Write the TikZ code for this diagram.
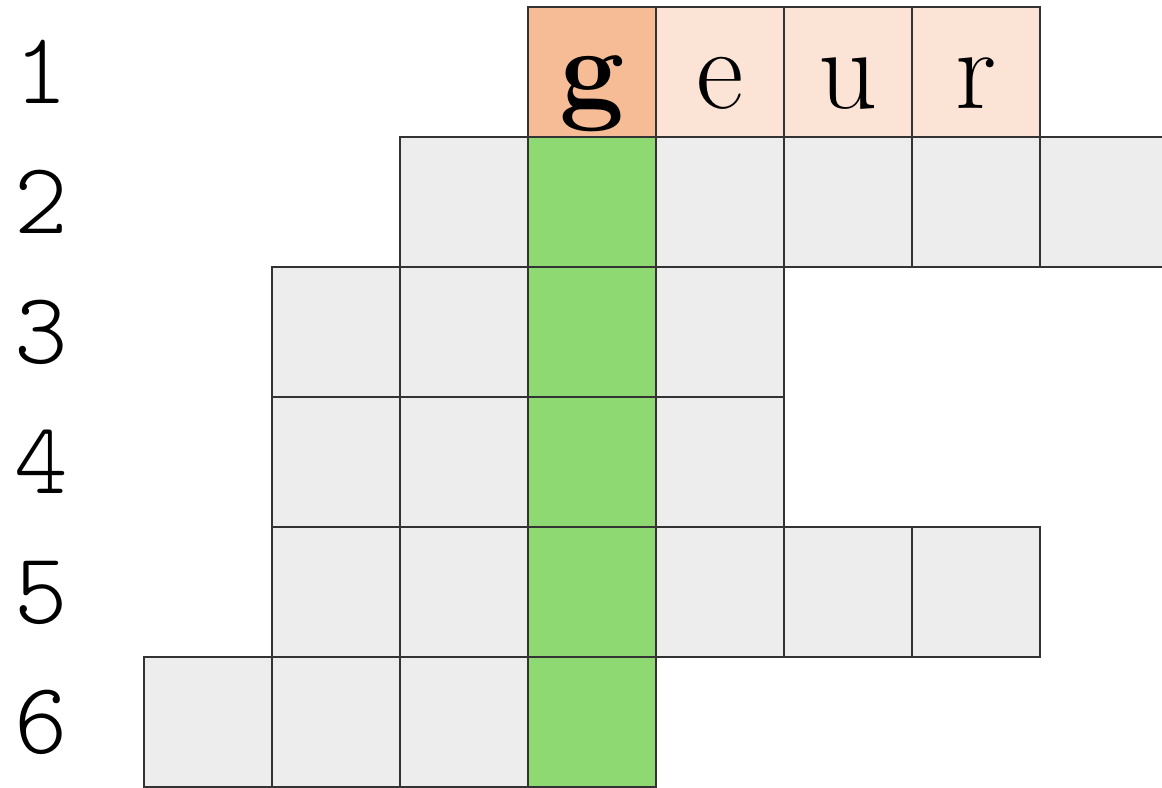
\documentclass[tikz,border=0pt]{standalone}
\usepackage{fontspec}
\usepackage{tikz}
\usetikzlibrary{positioning}

\definecolor{guessorange}{HTML}{F5BC96}
\definecolor{wordorange}{HTML}{FBE4D6}
\definecolor{hitgreen}{HTML}{8FD973}
\definecolor{emptygray}{HTML}{EDEDED}

\begin{document}
\begin{tikzpicture}[
    cell/.style={draw=black!80, line width=0.4pt, minimum width=1.28cm, minimum height=1.30cm,
        inner sep=0pt, text height=0.9cm, text depth=0.18cm, font=\fontsize{33}{33}\selectfont},
    rownum/.style={inner sep=0pt, text height=0.8cm, text depth=0.18cm,
        font=\ttfamily\fontseries{l}\fontsize{29}{29}\selectfont}
]
    \useasboundingbox (0,0) rectangle (11.62,-7.87);
    % row numbers
    \foreach \r in {1,...,6} {
        \node[rownum] (num\r) at (0.41,{-0.72-1.30*(\r-1)}) {\r};
    }
    % grey cells: row/first column/last column
    \foreach \r/\a/\b in {2/3/8, 3/2/5, 4/2/5, 5/2/7, 6/1/4} {
        \foreach \k in {\a,...,\b} {
            \node[cell, fill=emptygray] (c\r-\k) at ({0.80+1.28*\k},{-0.72-1.30*(\r-1)}) {};
        }
    }
    % green column under the g
    \foreach \r in {2,...,6} {
        \node[cell, fill=hitgreen] (c\r-4) at ({0.80+1.28*4},{-0.72-1.30*(\r-1)}) {};
    }
    % the word
    \node[cell, fill=guessorange] (c1-4) at ({0.80+1.28*4},-0.72) {\bfseries g};
    \foreach \k/\ch in {5/e, 6/u, 7/r} {
        \node[cell, fill=wordorange] (c1-\k) at ({0.80+1.28*\k},-0.72) {\ch};
    }
\end{tikzpicture}
\end{document}
